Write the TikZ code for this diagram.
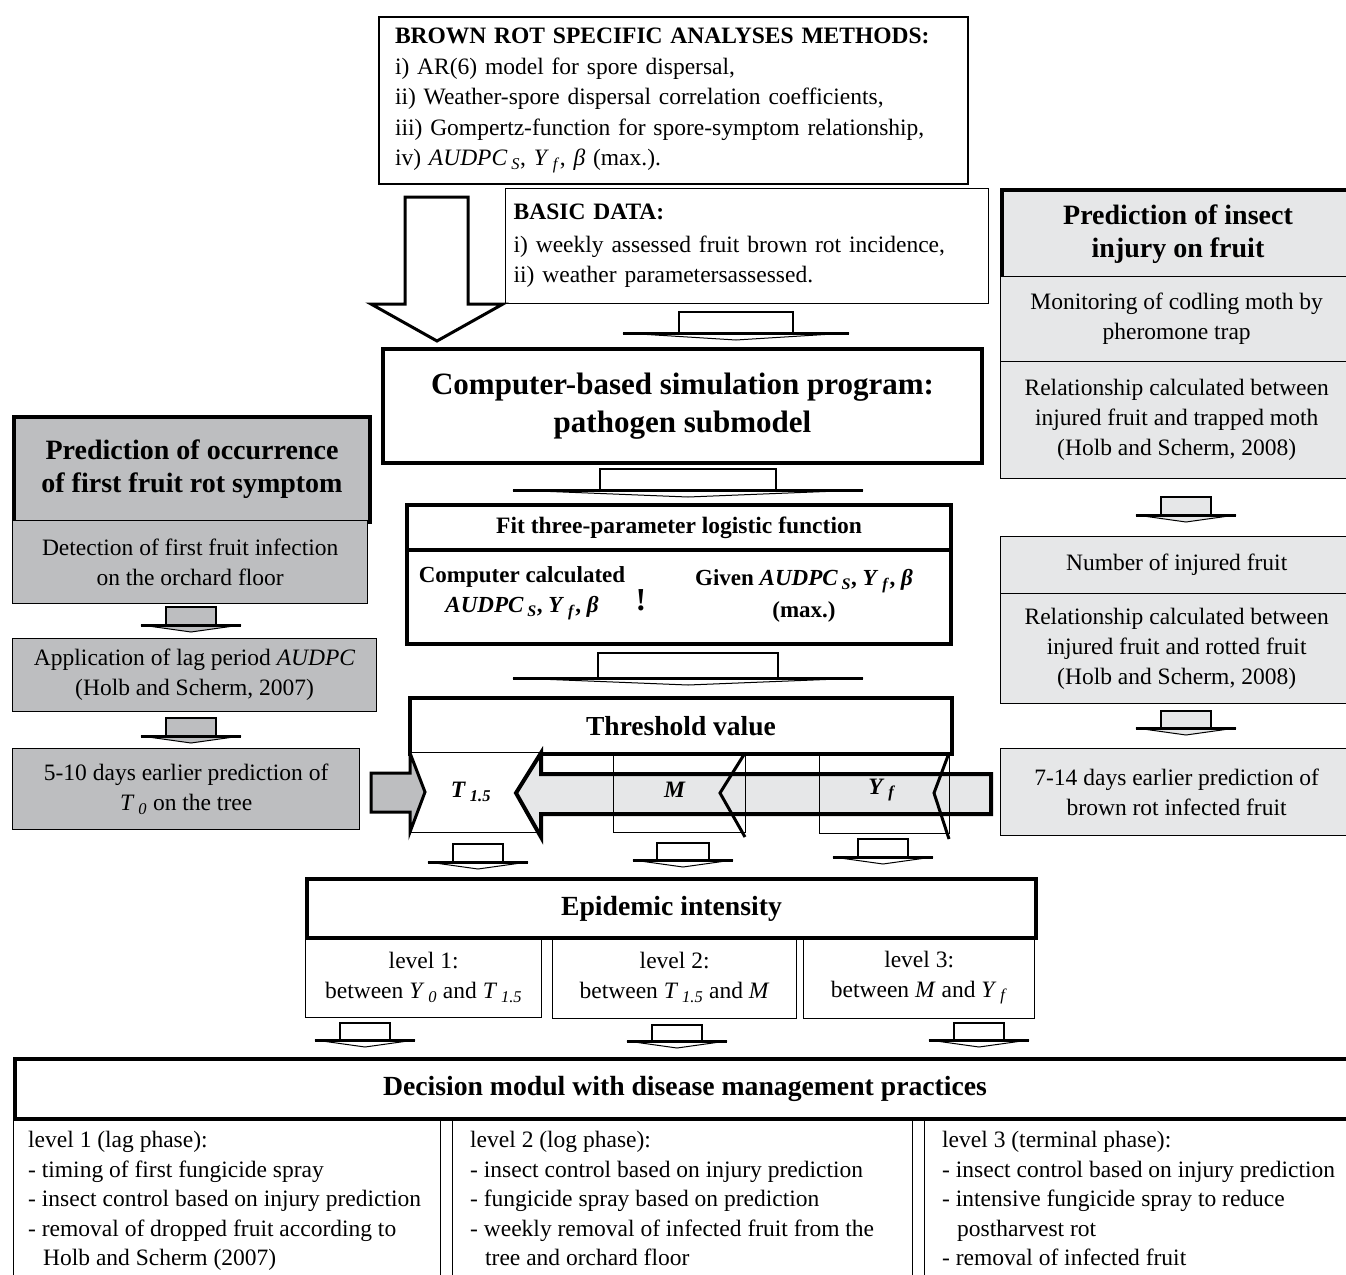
\documentclass[tikz,border=0pt]{standalone}
\usepackage{fontspec}
\setmainfont{Liberation Serif}
\definecolor{darkfill}{RGB}{189,190,192}
\definecolor{lightfill}{RGB}{230,231,232}
\newcommand{\vsub}[2]{\textit{#1}\,\textsubscript{\textit{#2}}}
% flat block arrow: centre x, top y, half shaft, half wings, shaft height, fill
\newcommand{\flatarrow}[6]{%
  \filldraw[fill=#6, line width=1pt] (#1-#4,#2+#5) -- (#1,#2+#5+7) -- (#1+#4,#2+#5) -- cycle;
  \filldraw[fill=#6, line width=2.5pt] (#1-#3,#2+#5) -- (#1-#3,#2) -- (#1+#3,#2) -- (#1+#3,#2+#5);
  \draw[line width=3pt] (#1-#4,#2+#5) -- (#1+#4,#2+#5);
}
\tikzset{
  thinbox/.style={draw, line width=1.3pt, inner sep=0pt, anchor=north west},
  heavybox/.style={draw, line width=4pt, inner sep=0pt, anchor=north west},
  body/.style={font=\fontsize{23.5}{30}\selectfont},
  head/.style={font=\fontsize{28}{33}\selectfont\bfseries},
}

\begin{document}
\begin{tikzpicture}[x=1pt,y=-1pt]
        \useasboundingbox (0,0) rectangle (1346,1274);
        \clip (0,0) rectangle (1346,1274);

        % inputs
        \node[thinbox, line width=2pt, minimum width=589, minimum height=167, inner xsep=16, text width=557, align=left, font=\fontsize{23.5}{30.5}\selectfont] (methods) at (378,16)
            {{\bfseries BROWN ROT SPECIFIC ANALYSES METHODS:}\\
             i) AR(6) model for spore dispersal,\\
             ii) Weather-spore dispersal correlation coefficients,\\
             iii) Gompertz-function for spore-symptom relationship,\\
             iv) \vsub{AUDPC}{S}, \vsub{Y}{f}, \textit{β} (max.).};
        \node[thinbox, minimum width=483, minimum height=115, inner xsep=8, text width=467, align=left, body] (basicdata) at (505,188)
            {{\bfseries BASIC DATA:}\\[3pt]
             i) weekly assessed fruit brown rot incidence,\\
             ii) weather parametersassessed.};
        \draw[line width=3pt] (405,197)--(468,197)--(468,304)--(503,304)--(437,341)--(371,304)--(405,304)--cycle;
        \flatarrow{736}{312}{57}{113}{21}{white}

        % pathogen submodel
        \node[heavybox, minimum width=599, minimum height=114, align=center, font=\fontsize{31}{38}\selectfont\bfseries] (simprog) at (381,347)
            {Computer-based simulation program:\\ pathogen submodel};
        \flatarrow{688}{469}{88}{175}{21}{white}
        \node[heavybox, minimum width=544, minimum height=45, font=\fontsize{23.5}{28}\selectfont\bfseries] (fittitle) at (405,503) {Fit three-parameter logistic function};
        \node[heavybox, minimum width=544, minimum height=94] (fitbody) at (405,548) {};
        \node[align=center, font=\fontsize{23}{30}\selectfont\bfseries] (calcval) at (522,593) {Computer calculated\\ \vsub{AUDPC}{S}, \vsub{Y}{f}, \textit{β}};
        \node[font=\fontsize{32}{32}\selectfont\bfseries] (excl) at (641,600) {!};
        \node[align=center, font=\fontsize{23}{32}\selectfont\bfseries] (given) at (804,596) {Given \vsub{AUDPC}{S}, \vsub{Y}{f}, \textit{β}\\ (max.)};
        \flatarrow{688}{653}{90}{175}{25}{white}

        % threshold
        \node[heavybox, minimum width=542, minimum height=56, font=\fontsize{27.5}{33}\selectfont\bfseries] (threshold) at (408,696) {Threshold value};
        \node[thinbox, fill=white, minimum width=131, minimum height=80] (tbox) at (410,752) {};
        \filldraw[fill=lightfill, line width=4pt] (991,774)--(541,774)--(541,753)--(516,793)--(541,837)--(541,814)--(991,814)--cycle;
        \node[thinbox, minimum width=132, minimum height=80] (mbox) at (613,752) {};
        \node[thinbox, minimum width=130, minimum height=81] (yfbox) at (819,752) {};
        \draw[line width=3pt] (745,753)--(720,793)--(745,837);
        \draw[line width=3pt] (949,753)--(934,793)--(949,839);
        \filldraw[fill=darkfill, line width=3pt] (371,773)--(410,773)--(410,753)--(425,792)--(410,832)--(410,812)--(371,812)--cycle;
        \node[font=\fontsize{23.5}{28}\selectfont\bfseries] (tlabel) at (471,792) {\vsub{T}{1.5}};
        \node[font=\fontsize{23.5}{28}\selectfont\bfseries] (mlabel) at (675,790) {\textit{M}};
        \node[font=\fontsize{23.5}{28}\selectfont\bfseries] (yflabel) at (882,790) {\vsub{Y}{f}};
        \flatarrow{478}{844}{25}{50}{18}{white}
        \flatarrow{683}{843}{26}{50}{17}{white}
        \flatarrow{883}{839}{25}{50}{18}{white}

        % epidemic intensity
        \node[heavybox, minimum width=729, minimum height=59, font=\fontsize{27.7}{33}\selectfont\bfseries] (epidemic) at (305,877) {Epidemic intensity};
        \node[thinbox, minimum width=236, minimum height=81, align=center, body] (lev1) at (305,936) {level 1:\\ between \vsub{Y}{0} and \vsub{T}{1.5}};
        \node[thinbox, minimum width=244, minimum height=82, align=center, body] (lev2) at (552,936) {level 2:\\ between \vsub{T}{1.5} and \textit{M}};
        \node[thinbox, minimum width=231, minimum height=82, align=center, body] (lev3) at (803,936) {level 3:\\ between \textit{M} and \vsub{Y}{f}};
        \flatarrow{365}{1023}{25}{50}{17}{white}
        \flatarrow{677}{1025}{25}{50}{16}{white}
        \flatarrow{979}{1023}{25}{50}{17}{white}

        % decision modul
        \node[heavybox, minimum width=1340, minimum height=60, font=\fontsize{27.7}{33}\selectfont\bfseries] (decision) at (13,1057) {Decision modul with disease management practices};
        \node[thinbox, minimum width=427, minimum height=200] (col1) at (13,1117) {};
        \node[thinbox, minimum width=460, minimum height=200] (col2) at (452,1117) {};
        \node[thinbox, minimum width=430, minimum height=200] (col3) at (924,1117) {};
        \node[anchor=north west, inner sep=0pt, align=left, font=\fontsize{23.5}{29.5}\selectfont] (prac1) at (28,1131)
            {level 1 (lag phase):\\
             - timing of first fungicide spray\\
             - insect control based on injury prediction\\
             - removal of dropped fruit according to\\
             \hspace*{15pt}Holb and Scherm (2007)};
        \node[anchor=north west, inner sep=0pt, align=left, font=\fontsize{23.5}{29.5}\selectfont] (prac2) at (470,1131)
            {level 2 (log phase):\\
             - insect control based on injury prediction\\
             - fungicide spray based on prediction\\
             - weekly removal of infected fruit from the\\
             \hspace*{15pt}tree and orchard floor};
        \node[anchor=north west, inner sep=0pt, align=left, font=\fontsize{23.5}{29.5}\selectfont] (prac3) at (942,1131)
            {level 3 (terminal phase):\\
             - insect control based on injury prediction\\
             - intensive fungicide spray to reduce\\
             \hspace*{15pt}postharvest rot\\
             - removal of infected fruit};

        % first symptom prediction
        \node[heavybox, fill=darkfill, minimum width=356, minimum height=105, align=center, head] (firstrot) at (12,415) {Prediction of occurrence\\ of first fruit rot symptom};
        \node[thinbox, fill=darkfill, minimum width=355, minimum height=83, align=center, body] (detect) at (12,520) {Detection of first fruit infection\\ on the orchard floor};
        \flatarrow{191}{607}{25}{50}{18}{darkfill}
        \node[thinbox, fill=darkfill, minimum width=364, minimum height=73, align=center, body] (lagaudpc) at (12,638) {Application of lag period \textit{AUDPC}\\ (Holb and Scherm, 2007)};
        \flatarrow{191}{718}{25}{50}{18}{darkfill}
        \node[thinbox, fill=darkfill, minimum width=347, minimum height=81, align=center, body] (earlyten) at (12,748) {5-10 days earlier prediction of\\ \vsub{T}{0} on the tree};

        % insect injury prediction
        \node[heavybox, fill=lightfill, minimum width=352, minimum height=88, align=center, head] (insect) at (1000,188) {Prediction of insect\\ injury on fruit};
        \node[thinbox, fill=lightfill, minimum width=352, minimum height=85, align=center, body] (monitor) at (1000,276) {Monitoring of codling moth by\\ pheromone trap};
        \node[thinbox, fill=lightfill, minimum width=352, minimum height=117, align=center, body] (relmoth) at (1000,361) {Relationship calculated between\\ injured fruit and trapped moth\\ (Holb and Scherm, 2008)};
        \flatarrow{1186}{497}{25}{50}{18}{lightfill}
        \node[thinbox, fill=lightfill, minimum width=352, minimum height=57, align=center, body] (injured) at (1000,536) {Number of injured fruit};
        \node[thinbox, fill=lightfill, minimum width=352, minimum height=110, align=center, body] (relrot) at (1000,593) {Relationship calculated between\\ injured fruit and rotted fruit\\ (Holb and Scherm, 2008)};
        \flatarrow{1186}{711}{25}{50}{17}{lightfill}
        \node[thinbox, fill=lightfill, minimum width=352, minimum height=87, align=center, body] (earlyfourteen) at (1000,748) {7-14 days earlier prediction of\\ brown rot infected fruit};
    \end{tikzpicture}
\end{document}
